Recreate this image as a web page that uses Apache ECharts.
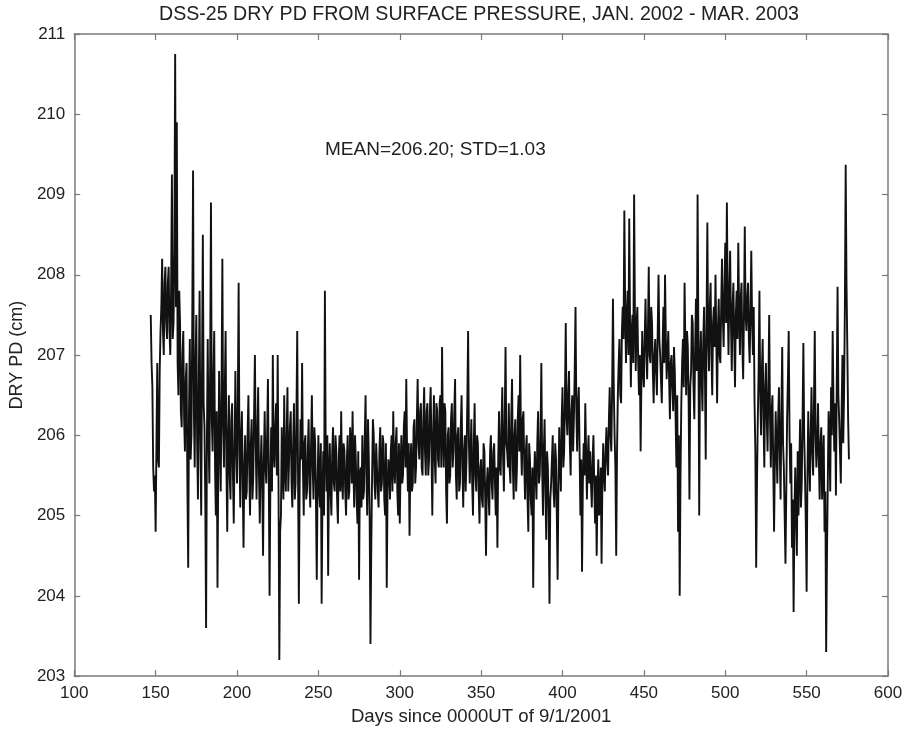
<!DOCTYPE html>
<html>
<head>
<meta charset="utf-8">
<title>DSS-25 DRY PD</title>
<script src="https://cdn.jsdelivr.net/npm/echarts@6/dist/echarts.min.js"></script>
<style>
  html, body { margin: 0; padding: 0; background: #fff; }
  #chart { width: 908px; height: 731px; }
</style>
</head>
<body>
<div id="chart"></div>
<script>
// first day of the record (days since 0000UT of 9/1/2001)
const dayStart = 147
// dry path delay (cm) at the start of each day
const dryPd = [
  207.5, 206.6, 205.3, 204.8, 206.9, 205.6, 207.3, 208.2, 207.0, 208.1,
  207.2, 208.1, 207.0, 209.25, 207.4, 210.75, 209.9, 206.5, 207.4, 206.1,
  207.3, 205.8, 206.9, 204.35, 207.2, 206.0, 209.3, 205.6, 207.5, 205.2,
  207.8, 205.0, 208.5, 206.1, 203.6, 207.2, 205.4, 208.9, 205.8, 207.3,
  205.0, 204.1, 206.8, 205.3, 208.2, 205.6, 207.3, 204.8, 206.5, 205.2,
  206.4, 204.9, 206.8, 205.4, 207.9, 205.1, 206.3, 204.6, 206.0, 205.3,
  206.5, 205.0, 206.2, 205.5, 207.0, 205.2, 206.6, 204.9, 206.0, 204.5,
  206.3, 205.4, 206.7, 204.0, 206.1, 207.0, 205.6, 206.4, 207.0, 203.2,
  205.0, 205.6, 206.5, 205.3, 206.6, 205.7, 206.3, 205.1, 206.4, 205.4,
  207.3, 203.9, 206.2, 206.9, 205.0, 206.0, 205.3, 206.2, 205.1, 206.5,
  205.2, 205.9, 204.2, 206.0, 205.1, 203.9, 205.8, 207.8, 205.3, 204.25,
  205.9, 205.0, 206.1, 205.3, 205.8, 204.9, 206.0, 206.3, 205.2, 205.8,
  205.0, 206.0, 205.3, 205.9, 206.3, 205.1, 205.7, 204.9, 204.2, 205.6,
  206.0, 205.3, 206.5, 205.0, 205.7, 203.4, 205.5, 206.0, 205.2, 205.9,
  205.1, 206.1, 205.4, 205.9, 205.0, 204.1, 205.7, 205.2, 206.0, 206.3,
  205.4, 206.1, 205.0, 204.9, 206.0, 205.5, 206.3, 206.7, 205.3, 204.75,
  205.9, 205.4, 206.2, 205.6, 206.7, 205.7, 206.4, 205.5, 206.6, 205.5,
  206.4, 205.7, 206.6, 205.0, 206.5, 205.4, 206.3, 205.6, 206.5, 207.1,
  205.6, 206.3, 204.9, 206.1, 205.5, 206.4, 205.8, 206.7, 205.2, 206.1,
  205.4, 206.5, 205.1, 206.0, 205.7, 207.3, 205.4, 206.2, 205.0, 206.4,
  205.3, 205.9, 204.9, 205.7, 205.1, 205.8, 204.5, 205.6, 205.0, 206.0,
  205.2, 205.9, 205.0, 204.6, 206.3, 205.5, 206.6, 205.3, 207.1, 205.8,
  206.4, 205.4, 206.7, 205.2, 206.2, 205.6, 206.5, 207.0, 205.5, 206.3,
  205.2, 206.0, 204.8, 205.7, 205.0, 204.1, 205.8, 205.2, 206.3, 205.5,
  206.9, 205.0, 206.2, 204.7, 205.6, 203.9, 205.4, 206.0, 205.1, 205.7,
  204.2, 206.1, 205.3, 206.6, 205.8, 207.4, 206.0, 206.8, 205.5, 206.5,
  206.2, 207.6, 205.8, 206.6, 205.0, 204.3, 205.9, 206.4, 205.2, 206.0,
  205.8, 205.1, 206.0, 204.9, 204.5, 205.7, 205.2, 204.4, 205.9, 205.3,
  206.1, 205.5, 206.6, 205.8, 207.7, 206.0, 204.5, 206.5, 207.2, 206.4,
  207.6, 208.8, 206.9, 207.8, 208.7, 206.6, 207.5, 209.0, 206.8, 207.6,
  206.5, 205.8, 207.3, 206.6, 207.7, 206.7, 208.1, 206.9, 207.4, 206.4,
  207.2, 206.5, 208.0, 207.0, 206.4, 207.6, 208.0, 206.7, 207.3, 206.2,
  207.0, 206.3, 206.8, 205.6, 204.8, 204.0, 206.4, 207.2, 207.9, 206.5,
  207.1, 205.2, 206.8, 207.4, 206.2, 207.7, 209.0, 205.0, 207.3, 206.3,
  207.6, 205.7, 208.65, 206.8, 207.9, 206.5, 207.6, 208.0, 206.4, 207.7,
  206.9, 208.2, 207.1, 208.4, 208.9, 207.0, 208.3, 206.8, 207.9, 206.6,
  207.8, 208.4, 207.0, 207.9, 206.7, 208.6, 207.3, 207.9, 206.9, 208.3,
  207.0, 206.4, 204.35, 206.2, 207.8, 206.0, 207.2, 205.6, 206.9, 205.8,
  207.5, 205.6, 206.5, 204.8, 206.3, 205.4, 206.6, 205.2, 207.1, 205.6,
  204.4, 206.2, 207.3, 205.4, 204.6, 203.8, 205.6, 204.5, 205.0, 206.2,
  205.4, 207.15, 205.5, 204.05, 206.3, 205.3, 206.6, 205.5, 207.3, 205.6,
  206.4, 205.2, 206.1, 205.6, 204.8, 203.3, 205.4, 206.0, 206.6, 207.3,
  205.8, 205.25, 207.85, 206.2, 205.4, 207.0, 206.5, 209.37, 207.1, 205.7
]
// dry path delay (cm) at mid-day (last day has none)
const dryPdMid = [
  206.9, 205.6, 205.5, 205.9, 205.7, 206.8, 207.6, 207.3, 207.9, 207.4,
  207.9, 207.3, 207.8, 207.2, 208.3, 207.6, 206.9, 207.8, 206.3, 207.0,
  206.2, 206.7, 205.4, 206.3, 205.7, 207.4, 206.3, 206.9, 205.9, 206.6,
  205.9, 206.8, 206.4, 205.2, 205.9, 206.0, 206.9, 206.2, 206.7, 205.6,
  206.3, 205.6, 205.9, 206.6, 206.1, 206.6, 205.6, 206.0, 205.5, 206.2,
  205.5, 205.8, 205.9, 206.4, 205.8, 206.0, 205.4, 205.6, 205.2, 206.0,
  205.6, 205.9, 205.2, 206.3, 205.9, 206.0, 205.5, 205.6, 205.4, 205.7,
  205.6, 206.0, 205.5, 205.4, 205.3, 205.8, 206.1, 205.5, 205.4, 204.8,
  206.1, 205.2, 205.6, 206.0, 205.3, 206.1, 205.4, 205.9, 205.2, 206.2,
  205.5, 205.4, 205.7, 205.6, 205.9, 205.2, 205.8, 205.4, 205.9, 205.6,
  206.1, 205.2, 205.4, 205.3, 205.9, 205.2, 205.0, 205.8, 206.0, 205.5,
  205.3, 205.8, 205.4, 206.0, 205.2, 205.7, 205.3, 205.5, 205.9, 205.3,
  205.7, 205.2, 206.1, 205.4, 205.6, 206.0, 205.2, 205.8, 205.5, 205.1,
  205.2, 206.0, 205.5, 206.2, 205.0, 204.6, 206.2, 205.4, 205.9, 205.3,
  205.8, 205.3, 206.0, 205.2, 205.9, 205.3, 205.6, 205.8, 205.3, 205.6,
  205.9, 205.3, 205.9, 205.6, 205.4, 206.1, 205.6, 205.8, 205.9, 205.6,
  205.3, 206.1, 205.4, 206.2, 205.9, 206.3, 205.6, 206.2, 205.8, 206.3,
  205.5, 206.3, 205.8, 206.0, 205.7, 206.4, 205.7, 206.4, 205.6, 206.0,
  206.4, 205.3, 206.0, 205.4, 206.2, 205.6, 206.3, 205.5, 206.0, 205.3,
  206.1, 205.6, 205.8, 205.3, 206.4, 205.9, 205.8, 205.4, 205.9, 205.5,
  206.0, 205.3, 205.6, 205.2, 205.9, 205.2, 205.4, 205.3, 205.8, 205.4,
  205.8, 205.4, 205.6, 205.7, 205.6, 206.1, 205.7, 206.2, 205.9, 205.6,
  205.6, 206.2, 205.6, 206.0, 205.3, 206.2, 205.8, 205.9, 206.2, 205.6,
  205.8, 205.2, 205.9, 205.2, 205.6, 205.4, 205.5, 205.9, 205.4, 206.0,
  205.6, 205.8, 205.3, 205.8, 205.0, 205.2, 205.7, 205.3, 205.9, 205.0,
  205.4, 205.6, 206.2, 205.6, 206.5, 206.2, 206.5, 205.9, 206.3, 205.8,
  206.8, 206.3, 206.4, 205.8, 205.7, 205.4, 205.5, 205.8, 205.7, 205.4,
  205.4, 205.7, 205.4, 205.5, 205.3, 205.0, 205.6, 205.4, 205.5, 205.8,
  205.7, 206.2, 206.0, 206.6, 206.6, 205.6, 205.8, 206.9, 206.5, 207.3,
  207.2, 207.6, 207.5, 207.0, 207.4, 207.3, 206.9, 207.5, 207.4, 206.9,
  207.0, 206.7, 206.8, 207.2, 207.1, 207.3, 207.0, 207.6, 206.8, 207.0,
  206.8, 207.3, 207.2, 206.7, 207.1, 206.9, 207.2, 207.0, 206.7, 206.9,
  206.6, 207.1, 206.2, 206.5, 206.0, 205.5, 206.9, 206.6, 207.1, 207.3,
  206.4, 206.6, 207.5, 206.6, 207.1, 206.8, 207.2, 206.9, 206.7, 207.2,
  206.8, 207.4, 207.2, 207.6, 207.0, 207.4, 207.1, 207.2, 207.3, 207.0,
  207.6, 207.5, 207.8, 207.4, 207.7, 207.8, 207.4, 207.6, 207.2, 207.5,
  207.2, 207.6, 207.7, 207.1, 207.5, 207.5, 207.7, 207.2, 207.6, 207.4,
  207.6, 205.8, 205.4, 206.8, 206.5, 206.8, 206.2, 206.6, 206.2, 206.6,
  206.2, 206.3, 205.6, 205.7, 205.8, 206.2, 205.8, 206.3, 205.9, 205.0,
  205.3, 206.7, 206.0, 205.9, 205.2, 205.0, 205.0, 205.8, 205.6, 205.1,
  206.2, 206.0, 204.9, 205.5, 205.7, 206.0, 205.8, 206.4, 206.0, 205.9,
  205.7, 205.9, 205.2, 206.0, 205.3, 204.5, 206.3, 205.3, 206.0, 206.4,
  206.4, 206.6, 206.5, 205.8, 206.3, 205.9, 207.6, 207.9, 206.2
]

const titleText = 'DSS-25 DRY PD FROM SURFACE PRESSURE, JAN. 2002 - MAR. 2003'
const statsText = 'MEAN=206.20; STD=1.03'
const xRange = [100, 600]
const yRange = [203, 211]

// day-start and mid-day readings in time order
const seriesData = []
dryPd.forEach((v, i) => {
  seriesData.push([dayStart + i, v])
  if (i < dryPdMid.length) seriesData.push([dayStart + i + 0.5, dryPdMid[i]])
})

const font = "'Liberation Sans', Arial, Helvetica, sans-serif"
const ink = '#222'
const frame = '#7a7a7a'

const chart = echarts.init(document.getElementById('chart'))

// box axes with ticks pointing inward on all four sides
const axisBits = (showLabels) => ({
  axisLine: { show: true, onZero: false, lineStyle: { color: frame, width: 1.5 } },
  axisTick: { show: true, inside: true, length: 6, lineStyle: { color: frame, width: 1.2 } },
  axisLabel: { show: showLabels, color: ink, fontSize: 17, fontFamily: font, margin: 9 },
  splitLine: { show: false }
})

chart.setOption({
  animation: false,
  backgroundColor: '#fff',
  grid: { left: 68, right: 20, top: 34, bottom: 53 },
  graphic: [
    {
      type: 'text',
      x: 479,
      y: 5,
      style: { text: titleText, textAlign: 'center', fill: ink, fontSize: 19.6, fontFamily: font }
    },
    {
      type: 'text',
      x: 325,
      y: 140,
      style: { text: statsText, fill: ink, fontSize: 19, fontFamily: font }
    }
  ],
  xAxis: [
    Object.assign(axisBits(true), {
      type: 'value',
      position: 'bottom',
      min: xRange[0],
      max: xRange[1],
      interval: 50,
      name: 'Days since 0000UT of 9/1/2001',
      nameLocation: 'middle',
      nameGap: 30,
      nameTextStyle: { color: ink, fontSize: 18.6, fontFamily: font }
    }),
    Object.assign(axisBits(false), {
      type: 'value',
      position: 'top',
      min: xRange[0],
      max: xRange[1],
      interval: 50
    })
  ],
  yAxis: [
    Object.assign(axisBits(true), {
      type: 'value',
      position: 'left',
      min: yRange[0],
      max: yRange[1],
      interval: 1,
      name: 'DRY PD (cm)',
      nameLocation: 'middle',
      nameGap: 44,
      nameTextStyle: { color: ink, fontSize: 18, fontFamily: font }
    }),
    Object.assign(axisBits(false), {
      type: 'value',
      position: 'right',
      min: yRange[0],
      max: yRange[1],
      interval: 1
    })
  ],
  series: [
    {
      type: 'line',
      xAxisIndex: 0,
      yAxisIndex: 0,
      showSymbol: false,
      symbol: 'none',
      lineStyle: { color: '#111', width: 1.9 },
      data: seriesData
    }
  ]
})
</script>
</body>
</html>
